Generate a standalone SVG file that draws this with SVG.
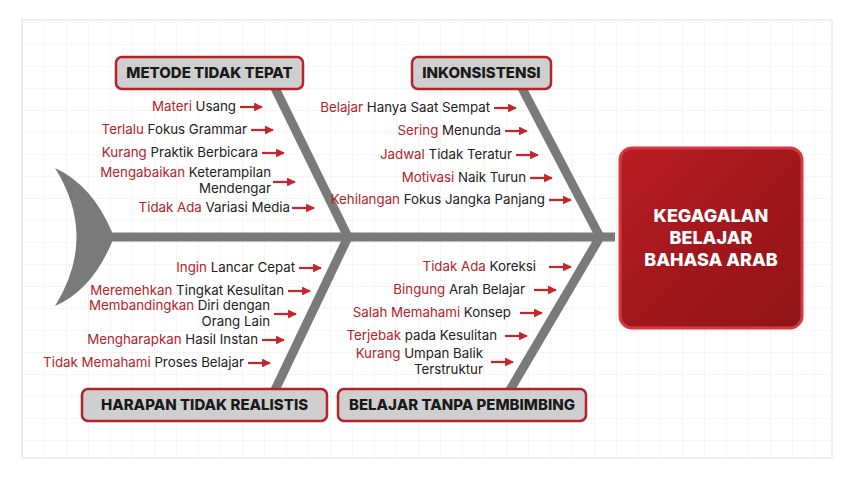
<svg xmlns="http://www.w3.org/2000/svg" width="854" height="477" viewBox="0 0 854 477">
<defs>
<pattern id="grid" width="22" height="22" patternUnits="userSpaceOnUse"><path d="M22 0H0V22" fill="none" stroke="#ececec" stroke-width="1"/></pattern>
<linearGradient id="hg" x1="0" y1="0" x2="1" y2="1"><stop offset="0" stop-color="#b81c22"/><stop offset="1" stop-color="#8e1318"/></linearGradient>
<marker id="ar" viewBox="0 0 10 10" refX="9" refY="5" markerWidth="4" markerHeight="4" orient="auto"><path d="M0 0L10 5L0 10z" fill="#c4262c"/></marker>
<style>
.t{font-family:Inter,"Noto Sans",sans-serif;font-size:13.3px;fill:#222}
.r{fill:#b3232a}
.cat{fill:#cfcfcf;stroke:#b3232a;stroke-width:2.5}
.ct{font-family:Inter,"Noto Sans",sans-serif;font-size:15px;font-weight:800;fill:#1a1a1a;text-anchor:middle}
.b{stroke:#7a7a7a;stroke-width:9;fill:none}
.a{stroke:#c4262c;stroke-width:2.2;marker-end:url(#ar)}
</style>
</defs>
<rect width="854" height="477" fill="#fff"/>
<rect x="22" y="20" width="810" height="438" fill="url(#grid)" stroke="#e2e2e2"/>
<g id="connectors">
<path d="M55 168 Q92 185 112 232 L112 242 Q92 290 55 306 Q98 237 55 168Z" fill="#7a7a7a"/>
<line class="b" x1="100" y1="237" x2="615" y2="237"/>
<line class="b" x1="275" y1="88" x2="348" y2="237"/>
<line class="b" x1="522" y1="88" x2="600" y2="237"/>
<line class="b" x1="348" y1="237" x2="275" y2="390"/>
<line class="b" x1="600" y1="237" x2="510" y2="390"/>
<g>
<line class="a" x1="240" y1="107" x2="262" y2="107"/>
<line class="a" x1="251" y1="130" x2="273" y2="130"/>
<line class="a" x1="262" y1="153" x2="284" y2="153"/>
<line class="a" x1="273" y1="182" x2="295" y2="182"/>
<line class="a" x1="292" y1="208" x2="314" y2="208"/>
<line class="a" x1="494" y1="108" x2="516" y2="108"/>
<line class="a" x1="505" y1="131" x2="527" y2="131"/>
<line class="a" x1="516" y1="155" x2="538" y2="155"/>
<line class="a" x1="530" y1="178" x2="552" y2="178"/>
<line class="a" x1="549" y1="200" x2="571" y2="200"/>
<line class="a" x1="299" y1="268" x2="321" y2="268"/>
<line class="a" x1="288" y1="291" x2="310" y2="291"/>
<line class="a" x1="274" y1="314" x2="296" y2="314"/>
<line class="a" x1="262" y1="340" x2="284" y2="340"/>
<line class="a" x1="248" y1="363" x2="270" y2="363"/>
<line class="a" x1="549" y1="267" x2="571" y2="267"/>
<line class="a" x1="534" y1="290" x2="556" y2="290"/>
<line class="a" x1="520" y1="313" x2="542" y2="313"/>
<line class="a" x1="505" y1="336" x2="527" y2="336"/>
<line class="a" x1="491" y1="362" x2="513" y2="362"/>
</g>
</g>
<g id="head">
<rect x="620" y="148" width="182" height="180" rx="12" fill="url(#hg)" stroke="#d63a40" stroke-width="3"/>
<text x="711" y="222" class="ct" style="fill:#fff;font-size:18px">KEGAGALAN</text>
<text x="711" y="244" class="ct" style="fill:#fff;font-size:18px">BELAJAR</text>
<text x="711" y="266" class="ct" style="fill:#fff;font-size:18px">BAHASA ARAB</text>
</g>
<g id="cat1"><rect class="cat" x="116" y="57" width="187" height="32" rx="6"/><text class="ct" x="209.5" y="78">METODE TIDAK TEPAT</text></g>
<g id="cat2"><rect class="cat" x="412" y="57" width="139" height="32" rx="6"/><text class="ct" x="481.5" y="78">INKONSISTENSI</text></g>
<g id="cat3"><rect class="cat" x="82" y="389" width="245" height="32" rx="6"/><text class="ct" x="204.5" y="410">HARAPAN TIDAK REALISTIS</text></g>
<g id="cat4"><rect class="cat" x="338" y="389" width="248" height="32" rx="6"/><text class="ct" x="462" y="410">BELAJAR TANPA PEMBIMBING</text></g>
<g id="causes" text-anchor="end">
<text class="t" x="236" y="111"><tspan class="r">Materi</tspan> Usang</text>
<text class="t" x="247" y="134"><tspan class="r">Terlalu</tspan> Fokus Grammar</text>
<text class="t" x="258" y="157"><tspan class="r">Kurang</tspan> Praktik Berbicara</text>
<text class="t" x="271" y="177"><tspan class="r">Mengabaikan</tspan> Keterampilan</text>
<text class="t" x="271" y="193">Mendengar</text>
<text class="t" x="290" y="212"><tspan class="r">Tidak Ada</tspan> Variasi Media</text>
<text class="t" x="490" y="112"><tspan class="r">Belajar</tspan> Hanya Saat Sempat</text>
<text class="t" x="501" y="135"><tspan class="r">Sering</tspan> Menunda</text>
<text class="t" x="512" y="159"><tspan class="r">Jadwal</tspan> Tidak Teratur</text>
<text class="t" x="526" y="182"><tspan class="r">Motivasi</tspan> Naik Turun</text>
<text class="t" x="545" y="204"><tspan class="r">Kehilangan</tspan> Fokus Jangka Panjang</text>
<text class="t" x="295" y="272"><tspan class="r">Ingin</tspan> Lancar Cepat</text>
<text class="t" x="284" y="295"><tspan class="r">Meremehkan</tspan> Tingkat Kesulitan</text>
<text class="t" x="270" y="310"><tspan class="r">Membandingkan</tspan> Diri dengan</text>
<text class="t" x="270" y="326">Orang Lain</text>
<text class="t" x="258" y="344"><tspan class="r">Mengharapkan</tspan> Hasil Instan</text>
<text class="t" x="244" y="367"><tspan class="r">Tidak Memahami</tspan> Proses Belajar</text>
<text class="t" x="536" y="271"><tspan class="r">Tidak Ada</tspan> Koreksi</text>
<text class="t" x="525" y="294"><tspan class="r">Bingung</tspan> Arah Belajar</text>
<text class="t" x="511" y="317"><tspan class="r">Salah Memahami</tspan> Konsep</text>
<text class="t" x="497" y="340"><tspan class="r">Terjebak</tspan> pada Kesulitan</text>
<text class="t" x="483" y="358"><tspan class="r">Kurang</tspan> Umpan Balik</text>
<text class="t" x="483" y="374">Terstruktur</text>
</g>
</svg>
